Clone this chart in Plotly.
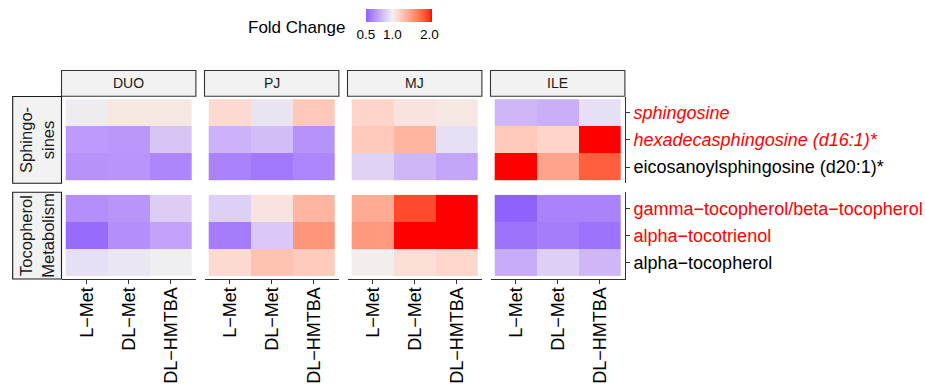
import numpy as np
import plotly.graph_objects as go

# ---------------- data ----------------
tissues = ["DUO", "PJ", "MJ", "ILE"]
treatments = ["L\u2212Met", "DL\u2212Met", "DL\u2212HMTBA"]
pathways = ["Sphingo-<br>sines", "Tocopherol<br>Metabolism"]
sphingo_metabolites = ["sphingosine", "hexadecasphingosine (d16:1)*", "eicosanoylsphingosine (d20:1)*"]
toco_metabolites = ["gamma\u2212tocopherol/beta\u2212tocopherol", "alpha\u2212tocotrienol", "alpha\u2212tocopherol"]
sphingo_label_color = ["red", "red", "black"]
sphingo_label_italic = [True, True, False]
toco_label_color = ["red", "red", "black"]
toco_label_italic = [False, False, False]

# fold change, rows = metabolites, cols = treatments
sph_DUO = [[0.98, 1.05, 1.05], [0.68, 0.67, 0.83], [0.65, 0.66, 0.61]]
sph_PJ = [[1.12, 0.95, 1.22], [0.76, 0.80, 0.65], [0.60, 0.57, 0.61]]
sph_MJ = [[1.15, 1.07, 1.05], [1.22, 1.32, 0.93], [0.88, 0.78, 0.72]]
sph_ILE = [[0.78, 0.75, 0.93], [1.22, 1.15, 2.10], [2.10, 1.42, 1.80]]
toc_DUO = [[0.64, 0.66, 0.86], [0.53, 0.64, 0.71], [0.93, 0.96, 0.99]]
toc_PJ = [[0.87, 1.07, 1.32], [0.58, 0.84, 1.50], [1.12, 1.25, 1.20]]
toc_MJ = [[1.38, 1.90, 2.10], [1.48, 2.10, 2.10], [1.02, 1.10, 1.14]]
toc_ILE = [[0.50, 0.60, 0.60], [0.55, 0.58, 0.55], [0.74, 0.87, 0.78]]

legend_breaks = [0.5, 1.0, 2.0]
legend_labels = ["0.5", "1.0", "2.0"]
fc_low, fc_high, fc_mid = 0.5, 2.08, 1.0

sph_data = [sph_DUO, sph_PJ, sph_MJ, sph_ILE]
toc_data = [toc_DUO, toc_PJ, toc_MJ, toc_ILE]

# ---------------- colour scale (Lab interpolation, blue-grey-red, sqrt transform) ----------------
def _lin(c):
    c = c / 255.0
    return np.where(c <= 0.04045, c / 12.92, ((c + 0.055) / 1.055) ** 2.4)

def _unlin(c):
    c = np.where(c <= 0.0031308, 12.92 * c, 1.055 * np.power(np.clip(c, 0, None), 1 / 2.4) - 0.055)
    return np.clip(np.round(c * 255), 0, 255)

M = np.array([[0.4124564, 0.3575761, 0.1804375],
              [0.2126729, 0.7151522, 0.0721750],
              [0.0193339, 0.1191920, 0.9503041]])
Minv = np.linalg.inv(M)
WHITE = np.array([0.95047, 1.0, 1.08883])

def rgb2lab(rgb):
    xyz = M @ _lin(np.array(rgb, float)) / WHITE
    f = np.where(xyz > 216 / 24389, np.cbrt(xyz), (24389 / 27 * xyz + 16) / 116)
    return np.array([116 * f[1] - 16, 500 * (f[0] - f[1]), 200 * (f[1] - f[2])])

def lab2rgb(lab):
    L, a, b = lab
    fy_ = (L + 16) / 116
    fx_ = fy_ + a / 500
    fz_ = fy_ - b / 200
    f = np.array([fx_, fy_, fz_])
    xyz = np.where(f ** 3 > 216 / 24389, f ** 3, (116 * f - 16) / (24389 / 27)) * WHITE
    return _unlin(Minv @ xyz)

lab_low, lab_mid, lab_high = rgb2lab([0, 0, 255]), rgb2lab([241, 241, 241]), rgb2lab([255, 0, 0])

def ramp(r):
    if r <= 0.5:
        t = r / 0.5
        lab = lab_low + (lab_mid - lab_low) * t
    else:
        t = (r - 0.5) / 0.5
        lab = lab_mid + (lab_high - lab_mid) * t
    c = lab2rgb(lab)
    return "rgb(%d,%d,%d)" % tuple(int(v) for v in c)

t_lo, t_hi, t_mid = np.sqrt(fc_low), np.sqrt(fc_high), np.sqrt(fc_mid)
span = max(abs(t_lo - t_mid), abs(t_hi - t_mid))
colorscale = []
for p in np.linspace(0, 1, 41):
    t = t_lo + p * (t_hi - t_lo)
    r = 0.5 + (t - t_mid) / (2 * span)
    colorscale.append([float(p), ramp(r)])

# ---------------- geometry ----------------
W, H = 925, 386
col_left = [61.5, 204.5, 347.5, 490.5]
panel_w = 134.4
row_top = [96.5, 192.2]
panel_h = 86.8
FONT = "Liberation Sans, Arial, sans-serif"

def fx(px):
    return px / W

def fy(py):
    return 1 - py / H

fig = go.Figure()
layout = dict(
    width=W, height=H, margin=dict(l=0, r=0, t=0, b=0),
    paper_bgcolor="white", plot_bgcolor="white",
    font=dict(family=FONT, color="black"),
    showlegend=False,
    coloraxis=dict(
        colorscale=colorscale, cmin=t_lo, cmax=t_hi,
        colorbar=dict(
            orientation="h", thickness=13, thicknessmode="pixels",
            len=66, lenmode="pixels",
            x=fx(399), xanchor="center", y=fy(9), yanchor="top",
            xpad=0, ypad=0, outlinewidth=0, ticks="",
            tickvals=[float(np.sqrt(v)) for v in legend_breaks], ticktext=legend_labels,
            tickfont=dict(size=13.5, family=FONT, color="black"),
        ),
    ),
)

shapes = []
annotations = []

def fmt_label(name, color, italic):
    s = "<i>%s</i>" % name if italic else name
    return '<span style="color:%s">%s</span>' % (color, s)

for r, (data, mets, colors, italics) in enumerate([
        (sph_data, sphingo_metabolites, sphingo_label_color, sphingo_label_italic),
        (toc_data, toco_metabolites, toco_label_color, toco_label_italic)]):
    for c, tissue in enumerate(tissues):
        k = r * 4 + c + 1
        xa = "x" if k == 1 else "x%d" % k
        ya = "y" if k == 1 else "y%d" % k
        z = np.sqrt(np.clip(np.array(data[c], float), fc_low, fc_high))
        fig.add_trace(go.Heatmap(
            x=treatments, y=mets, z=z, coloraxis="coloraxis",
            xaxis=xa, yaxis=ya, xgap=0, ygap=0, hoverinfo="skip"))
        x0, x1 = col_left[c], col_left[c] + panel_w
        y0, y1 = row_top[r], row_top[r] + panel_h
        xaxis = dict(
            domain=[fx(x0), fx(x1)], anchor=ya, type="category",
            categoryorder="array", categoryarray=treatments,
            range=[-0.6, 2.6], showgrid=False, zeroline=False, fixedrange=True)
        if r == 1:
            xaxis.update(showline=True, linecolor="#333333", linewidth=1.1,
                         ticks="outside", ticklen=4, tickwidth=1.1, tickcolor="#333333",
                         tickangle=-90, showticklabels=True, ticklabelstandoff=-4,
                         tickfont=dict(size=18, family=FONT, color="black"))
        else:
            xaxis.update(showline=False, ticks="", showticklabels=False)
        yaxis = dict(
            domain=[fy(y1), fy(y0)], anchor=xa, type="category",
            categoryorder="array", categoryarray=mets,
            range=[2.6, -0.6], showgrid=False, zeroline=False, fixedrange=True)
        if c == 3:
            yaxis.update(side="right", showline=True, linecolor="#333333", linewidth=1.1,
                         ticks="outside", ticklen=4, tickwidth=1.1, tickcolor="#333333",
                         showticklabels=True, tickvals=mets,
                         ticktext=[fmt_label(m, col, it) for m, col, it in zip(mets, colors, italics)],
                         tickfont=dict(size=18, family=FONT, color="black"))
        else:
            yaxis.update(showline=False, ticks="", showticklabels=False)
        layout["xaxis" if k == 1 else "xaxis%d" % k] = xaxis
        layout["yaxis" if k == 1 else "yaxis%d" % k] = yaxis

# top strips
strip_top, strip_bot = 70.5, 96.3
for c, tissue in enumerate(tissues):
    x0, x1 = col_left[c], col_left[c] + panel_w
    shapes.append(dict(type="rect", xref="paper", yref="paper",
                       x0=fx(x0), x1=fx(x1), y0=fy(strip_bot), y1=fy(strip_top),
                       fillcolor="#F2F2F2", line=dict(color="#333333", width=1.1), layer="below"))
    annotations.append(dict(xref="paper", yref="paper", x=fx((x0 + x1) / 2), y=fy((strip_top + strip_bot) / 2),
                            text=tissue, showarrow=False, xanchor="center", yanchor="middle",
                            font=dict(size=14, family=FONT, color="#1A1A1A")))

# row strips
rs_left, rs_right = 12.7, 61.5
for r, pw in enumerate(pathways):
    y0, y1 = row_top[r], row_top[r] + panel_h
    shapes.append(dict(type="rect", xref="paper", yref="paper",
                       x0=fx(rs_left), x1=fx(rs_right), y0=fy(y1), y1=fy(y0),
                       fillcolor="#F2F2F2", line=dict(color="#1A1A1A", width=1.1), layer="below"))
    annotations.append(dict(xref="paper", yref="paper", x=fx((rs_left + rs_right) / 2), y=fy((y0 + y1) / 2),
                            text=pw, showarrow=False, xanchor="center", yanchor="middle", textangle=-90,
                            font=dict(size=16.5, family=FONT, color="#1A1A1A")))

# legend title
annotations.append(dict(xref="paper", yref="paper", x=fx(296), y=fy(27), text="Fold Change",
                        showarrow=False, xanchor="center", yanchor="middle",
                        font=dict(size=17, family=FONT, color="black")))

layout["shapes"] = shapes
layout["annotations"] = annotations
fig.update_layout(**layout)
fig.write_html("out.html")
